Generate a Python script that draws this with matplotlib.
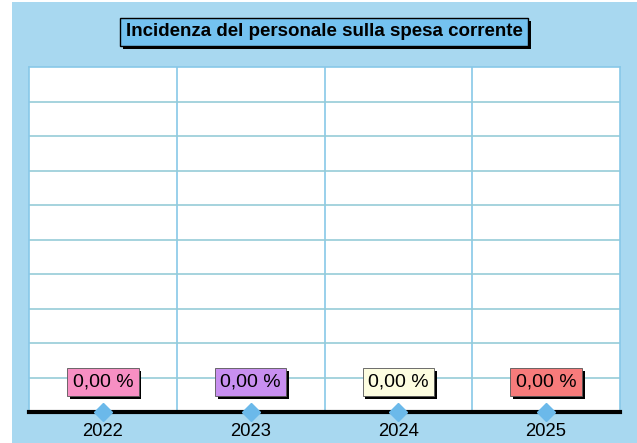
import matplotlib.pyplot as plt
import matplotlib.patheffects as pe
from matplotlib.patches import Rectangle

plt.rcParams['font.family'] = ['Liberation Sans', 'DejaVu Sans']

years = ['2022', '2023', '2024', '2025']
values = [0.0, 0.0, 0.0, 0.0]
box_colors = ['#f78fc3', '#c88ff0', '#fdfde0', '#f77b7b']
title_text = 'Incidenza del personale sulla spesa corrente'

W, H = 637, 443
fig = plt.figure(figsize=(W / 100, H / 100), dpi=100)
fig.patch.set_facecolor('white')

# light blue panel behind everything
fig.patches.append(Rectangle((12 / W, 0), 1 - 12 / W, (H - 2) / H,
                             transform=fig.transFigure, facecolor='#a8d8f0',
                             edgecolor='none', zorder=-5))

ax = fig.add_axes([29 / W, (H - 412) / H, 591 / W, 345 / H])
ax.set_zorder(2)
ax.set_facecolor('white')

x = range(len(years))
ax.set_xlim(-0.5, len(years) - 0.5)
ax.set_ylim(0, 10)

# grid
for xv in [0.5, 1.5, 2.5]:
    ax.axvline(xv, color='#88c8e8', lw=1.2, zorder=1)
for yv in range(1, 10):
    ax.axhline(yv, color='#96ccd8', lw=1.2, zorder=1)

for side in ['top', 'left', 'right']:
    ax.spines[side].set_color('#88c8e8')
    ax.spines[side].set_linewidth(1.2)
ax.spines['bottom'].set_color('black')
ax.spines['bottom'].set_linewidth(3)

ax.plot(list(x), values, linestyle='none', marker='D', markersize=9,
        color='#6bb9ea', clip_on=False, zorder=5)

for i, (v, c) in enumerate(zip(values, box_colors)):
    t = ax.annotate(f'{v:.2f} %'.replace('.', ','), (i, v), xytext=(0, 21.5),
                    textcoords='offset points', ha='center', va='center',
                    fontsize=14, color='black', zorder=6,
                    bbox=dict(boxstyle='square,pad=0.28', facecolor=c,
                              edgecolor='#555555', lw=0.6))
    t.get_bbox_patch().set_path_effects([
        pe.SimplePatchShadow(offset=(2, -2), shadow_rgbFace='black', alpha=1),
        pe.Normal()])

ax.set_xticks(list(x))
ax.set_xticklabels(years, fontsize=13.3)
ax.tick_params(axis='x', length=0, pad=8)
ax.set_yticks([])

# title in a blue box with a solid black drop shadow
title = fig.text(324 / W, 1 - 32 / H, title_text,
                 ha='center', va='center', fontsize=13.5, fontweight='bold',
                 zorder=10,
                 bbox=dict(boxstyle='square,pad=0.3', facecolor='#74c2f0',
                           edgecolor='black', lw=1))
fig.canvas.draw()
bb = title.get_bbox_patch().get_window_extent()
fig.patches.append(Rectangle((bb.x0 + 3, bb.y0 - 3), bb.width, bb.height,
                             transform=None, facecolor='black',
                             edgecolor='none', zorder=9))

fig.savefig('out.png', dpi=100)
